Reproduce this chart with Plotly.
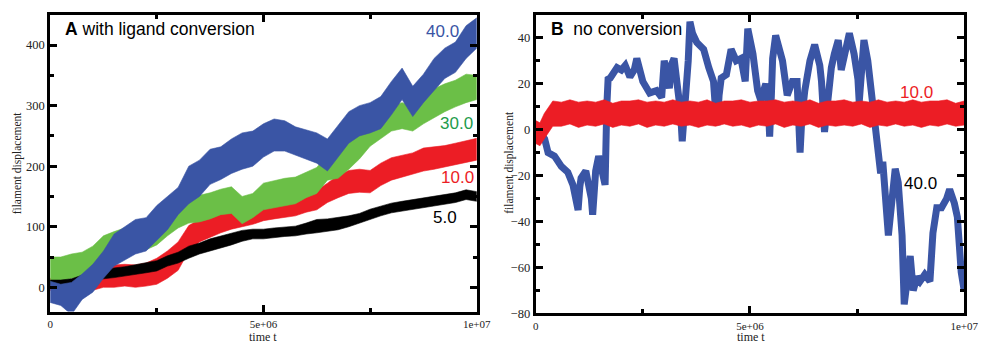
import plotly.graph_objects as go

# ---------------- data (time in millions of steps) ----------------
t_A_M = [0, 0.25, 0.5, 0.75, 1, 1.25, 1.5, 1.75, 2, 2.25, 2.5, 2.75, 3, 3.25, 3.5, 3.75,
         4, 4.25, 4.5, 4.75, 5, 5.25, 5.5, 5.75, 6, 6.25, 6.5, 6.75, 7, 7.25, 7.5, 7.75,
         8, 8.25, 8.5, 8.75, 9, 9.25, 9.5, 9.75, 10]

# panel A: envelopes (lower/upper) of the noisy displacement bands
blue40_lo = [-25, -30, -45, -20, -8, 15, 35, 45, 55, 60, 78, 95, 120, 138, 150, 170, 178, 188, 195, 200,
             215, 225, 225, 218, 212, 205, 192, 215, 238, 250, 255, 262, 285, 310, 282, 305, 325, 345, 355, 378, 395]
blue40_hi = [10, 5, 8, 22, 38, 60, 88, 100, 112, 115, 135, 150, 165, 200, 210, 228, 232, 245, 255, 258,
             270, 278, 275, 265, 260, 255, 245, 268, 290, 300, 305, 315, 340, 362, 332, 352, 378, 395, 405, 432, 445]
green30_lo = [5, 10, 15, 18, 25, 40, 48, 55, 58, 62, 70, 85, 98, 106, 108, 113, 120, 122, 105, 115,
              128, 132, 135, 138, 148, 155, 177, 180, 195, 212, 233, 245, 258, 262, 258, 270, 280, 290, 298, 305, 310]
green30_hi = [50, 50, 55, 58, 68, 85, 92, 98, 101, 108, 115, 128, 138, 150, 152, 156, 162, 166, 150, 155,
              172, 176, 180, 182, 190, 198, 219, 230, 245, 262, 283, 292, 300, 305, 300, 318, 328, 336, 342, 352, 350]
red10_lo = [-5, -10, -10, -8, -5, 0, 0, 2, 0, 2, 5, 15, 28, 60, 75, 82, 90, 96, 100, 104,
            110, 113, 116, 118, 124, 128, 140, 148, 155, 157, 156, 168, 177, 183, 187, 192, 195, 198, 202, 206, 210]
red10_hi = [15, 12, 10, 18, 25, 32, 37, 38, 37, 40, 48, 60, 75, 102, 112, 122, 128, 132, 135, 138,
            145, 148, 150, 152, 156, 160, 172, 185, 193, 195, 193, 205, 214, 218, 222, 230, 232, 234, 238, 242, 246]
black5_lo = [-2, -2, 0, 5, 10, 14, 16, 18, 21, 24, 27, 35, 40, 48, 55, 60, 65, 70, 76, 80,
             80, 82, 84, 85, 88, 90, 92, 95, 100, 105, 112, 118, 123, 126, 129, 132, 134, 137, 140, 145, 142]
black5_hi = [12, 12, 14, 20, 24, 28, 32, 34, 37, 40, 44, 52, 58, 68, 73, 80, 85, 90, 94, 96,
             96, 98, 100, 101, 106, 112, 113, 115, 118, 122, 129, 134, 139, 142, 145, 148, 150, 153, 156, 161, 158]

# panel B: 40.0 trajectory (centre line)
t_B_blue_M = [0, 0.1, 0.21, 0.29, 0.44, 0.6, 0.75, 0.87, 0.95, 0.99, 1.03, 1.06, 1.17, 1.24, 1.3, 1.33, 1.37,
              1.4, 1.47, 1.56, 1.62, 1.66, 1.69, 1.74, 1.82, 1.9, 2.0, 2.09, 2.2, 2.3, 2.36, 2.42, 2.5, 2.66,
              2.82, 2.94, 3.0, 3.07, 3.12, 3.16, 3.23, 3.3, 3.38, 3.42, 3.46, 3.51, 3.56, 3.6, 3.66, 3.76,
              3.92, 4.04, 4.15, 4.2, 4.24, 4.28, 4.33, 4.45, 4.56, 4.68, 4.79, 4.89, 4.95, 5.07, 5.18, 5.25,
              5.37, 5.43, 5.46, 5.5, 5.53, 5.6, 5.76, 5.87, 5.99, 6.1, 6.14, 6.17, 6.21, 6.28, 6.4, 6.51,
              6.63, 6.67, 6.74, 6.79, 6.83, 6.9, 6.97, 7.06, 7.13, 7.2, 7.32, 7.43, 7.52, 7.55, 7.6, 7.66,
              7.75, 7.82, 7.89, 7.94, 8.0, 8.05, 8.1, 8.17, 8.21, 8.23, 8.33, 8.39, 8.46, 8.55, 8.6, 8.67,
              8.74, 8.81, 8.9, 8.97, 9.08, 9.2, 9.27, 9.36, 9.47, 9.59, 9.66, 9.77, 9.84, 9.93, 10.0]
blue40_B = [2, -1, -4, -10, -11.5, -16, -18.5, -24, -30, -35, -25, -21, -18, -24, -30, -37, -25,
            -18, -11.5, -21, -24, 10, 22, 22.5, 25, 27, 26, 28, 23, 26, 31, 27, 21, 16,
            17, 14, 30, 24, 18, 28, 31, 20, 8, -5, 5, 10, 30, 47, 42, 38,
            35, 27, 21, 8, 2, 15, 22.5, 24, 35, 30, 31, 21, 44, 33, 17, 13,
            20, 10, -3, 15, 31, 41, 30, 15, 21, 21, 5, -10, 5, 17, 30, 37,
            28, 21, -1, 10, 17, 27, 33, 39, 26, 31, 42, 33, 22, 12, 25, 39,
            30, 18, 7, 0, -13, -19, -14, -27, -41, -46, -30, -17, -23, -46, -76, -64,
            -55, -70, -64, -66, -63, -66, -45, -34, -34, -30, -26, -32, -38, -62, -70]

# panel B: 10.0 band envelopes
t_B_red_M = [0, 0.1, 0.2, 0.3, 0.4, 0.6, 0.8, 1.0, 1.2, 1.4, 1.6, 1.8, 2.0, 2.2, 2.4, 2.6, 2.8, 3.0,
             3.2, 3.4, 3.6, 3.8, 4.0, 4.2, 4.4, 4.6, 4.8, 5.0, 5.2, 5.4, 5.6, 5.8, 6.0, 6.2, 6.4, 6.6,
             6.8, 7.0, 7.2, 7.4, 7.6, 7.8, 8.0, 8.2, 8.4, 8.6, 8.8, 9.0, 9.2, 9.4, 9.6, 9.8, 10.0]
red10_B_lo = [-6, -7, -4, -1, 1.5,
              1.5, 2.5, 1, 2, 1.5, 2.5, 1, 2,
              1.5, 2.5, 1, 2, 1.5, 2.5, 1.5, 2,
              1, 2, 1.5, 2.5, 1.5, 2, 1, 2,
              1.5, 2.5, 1, 2, 1.5, 2.5, 1, 2,
              1.5, 2, 1.5, 2.5, 1, 2, 1.5, 2.5,
              1.5, 2, 1, 2, 1.5, 2.5, 1.5, 2]
red10_B_hi = [4, 3, 7, 10, 12.5,
              12, 13, 12, 12.5, 12, 13, 11.5, 12.5,
              12.5, 13, 12, 12.5, 12, 13, 12, 12.5,
              12, 13, 11.5, 12.5, 12.5, 13, 12, 12.5,
              12.5, 13, 12, 12.5, 12, 13, 11.5, 12.5,
              12.5, 13, 12, 12.5, 12, 13, 12, 12.5,
              12, 13, 12, 12.5, 12.5, 13, 11.5, 12.5]

x_tick_vals = [0, 5e6, 1e7]
x_tick_text = ["0", "5e+06", "1e+07"]

# ---------------- styling ----------------
BLUE = "#3A55A5"
GREEN = "#6BBF47"
RED = "#EC1D25"
BLACK = "#000000"
SERIF = "Liberation Serif, Times New Roman, DejaVu Serif, serif"
SANS = "Liberation Sans, Arial, sans-serif"

fig = go.Figure()


def band(t_m, lo, hi, color, xa, ya):
    t = [v * 1e6 for v in t_m]
    xs = t + t[::-1]
    ys = list(hi) + list(lo)[::-1]
    fig.add_trace(go.Scatter(x=xs, y=ys, fill="toself", fillcolor=color, mode="lines",
                             line=dict(color=color, width=0.6), xaxis=xa, yaxis=ya,
                             hoverinfo="skip", showlegend=False))


# panel A (drawing order: red, green, black, blue)
band(t_A_M, red10_lo, red10_hi, RED, "x", "y")
band(t_A_M, green30_lo, green30_hi, GREEN, "x", "y")
band(t_A_M, black5_lo, black5_hi, BLACK, "x", "y")
band(t_A_M, blue40_lo, blue40_hi, BLUE, "x", "y")

# panel B (blue beneath red)
fig.add_trace(go.Scatter(x=[v * 1e6 for v in t_B_blue_M], y=blue40_B, mode="lines",
                         line=dict(color=BLUE, width=7), xaxis="x2", yaxis="y2",
                         showlegend=False))
band(t_B_red_M, red10_B_lo, red10_B_hi, RED, "x2", "y2")

axis_common = dict(showline=True, linewidth=3, linecolor="black", mirror="allticks",
                   ticks="inside", ticklen=7, tickwidth=2.5, tickcolor="black",
                   showgrid=False, zeroline=False,
                   tickfont=dict(family=SERIF, size=12.5, color="#222"))
xtickfont = dict(family=SERIF, size=11, color="#222")
minor_x = dict(tickmode="array", tickvals=[2.5e6, 7.5e6], ticks="inside", ticklen=4,
               tickwidth=2.5, tickcolor="black", showgrid=False)

fig.update_layout(
    width=989, height=344, margin=dict(l=0, r=0, t=0, b=0),
    plot_bgcolor="white", paper_bgcolor="white", showlegend=False,
    xaxis=dict(domain=[0.0485, 0.4874], range=[0, 1e7], tickmode="array",
               tickvals=x_tick_vals, ticktext=x_tick_text, minor=minor_x, anchor="y",
               **{**axis_common, "tickfont": xtickfont}),
    yaxis=dict(domain=[0.0756, 0.956], range=[-40, 450], tickmode="linear", tick0=0, dtick=100,
               minor=dict(tickmode="linear", tick0=0, dtick=50, ticks="inside", ticklen=4,
                          tickwidth=2.5, tickcolor="black", showgrid=False),
               anchor="x", **axis_common),
    xaxis2=dict(domain=[0.548, 0.9889], range=[0, 1e7], tickmode="array",
                tickvals=x_tick_vals, ticktext=x_tick_text, minor=minor_x, anchor="y2",
                **{**axis_common, "tickfont": xtickfont}),
    yaxis2=dict(domain=[0.0698, 0.956], range=[-80, 50], tickmode="linear", tick0=0, dtick=20,
                minor=dict(tickmode="linear", tick0=0, dtick=10, ticks="inside", ticklen=4,
                           tickwidth=2.5, tickcolor="black", showgrid=False),
                anchor="x2", **axis_common),
)

ann = []
# panel titles
ann.append(dict(text="<b>A</b> with ligand conversion", xref="paper", yref="paper",
                x=61 / 989, y=1 - 30 / 344, xanchor="left", yanchor="middle",
                showarrow=False, font=dict(family=SANS, size=17.5, color="black")))
ann.append(dict(text="<b>B</b>  no conversion", xref="paper", yref="paper",
                x=556 / 989, y=1 - 30 / 344, xanchor="left", yanchor="middle",
                showarrow=False, font=dict(family=SANS, size=17.5, color="black")))
# series labels
for txt, x, y, col, xr, yr in [("40.0", 9.19e6, 423, BLUE, "x", "y"),
                               ("30.0", 9.52e6, 271, "#1E9B4B", "x", "y"),
                               ("10.0", 9.54e6, 182, RED, "x", "y"),
                               ("5.0", 9.26e6, 116, BLACK, "x", "y"),
                               ("10.0", 8.88e6, 16.2, RED, "x2", "y2"),
                               ("40.0", 8.99e6, -23.4, BLACK, "x2", "y2")]:
    ann.append(dict(text=txt, x=x, y=y, xref=xr, yref=yr, showarrow=False,
                    xanchor="center", yanchor="middle",
                    font=dict(family=SANS, size=17, color=col)))
# axis titles
for xp in [15 / 989, 515 / 989]:
    ann.append(dict(text="filament displacement", xref="paper", yref="paper", x=xp,
                    y=1 - 166 / 344, textangle=-90, showarrow=False, xanchor="center",
                    yanchor="middle", font=dict(family=SERIF, size=11.5, color="#222")))
for xp in [265 / 989, 761 / 989]:
    ann.append(dict(text="time t", xref="paper", yref="paper", x=xp, y=1 - 343.5 / 344,
                    showarrow=False, xanchor="center", yanchor="middle",
                    font=dict(family=SERIF, size=12, color="#222")))
fig.update_layout(annotations=ann)

fig.write_html("out.html")
